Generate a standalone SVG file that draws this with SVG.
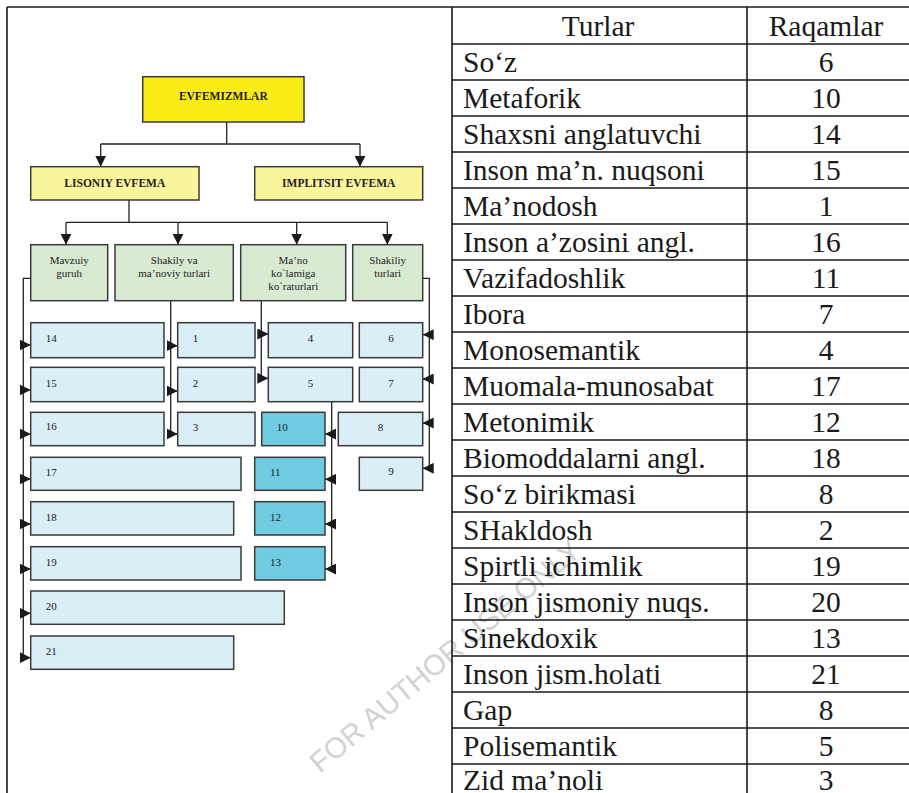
<svg xmlns="http://www.w3.org/2000/svg" width="909" height="793" viewBox="0 0 909 793">
<style>
.frame{stroke:#1a1a1a;stroke-width:1.6;fill:none}
.box{stroke:#3a3a3a;stroke-width:1.5}
.y1{fill:#f9eb14}
.y2{fill:#fbf59c}
.g{fill:#d9ead3}
.b{fill:#daeef5}
.t{fill:#6fcce0}
.lbl{font-family:"Liberation Serif","Times New Roman",serif;font-size:11px;fill:#222}
.hb{font-family:"Liberation Serif","Times New Roman",serif;font-size:11.5px;font-weight:bold;fill:#222;text-anchor:middle}
.gt{font-family:"Liberation Serif","Times New Roman",serif;font-size:11px;fill:#222;text-anchor:middle}
.con{stroke:#222;stroke-width:1.3;fill:none}
.arr{stroke:#222;stroke-width:1.3;fill:none;marker-end:url(#ah)}
.tt{font-family:"Liberation Serif","Times New Roman",serif;font-size:29.5px;fill:#1a1a1a}
.tn{font-family:"Liberation Serif","Times New Roman",serif;font-size:29.5px;fill:#1a1a1a;text-anchor:middle}
.wm{font-family:"Liberation Sans",Arial,sans-serif;font-size:29px;fill:#d2d2d2}
</style>
<defs>
<marker id="ah" markerUnits="userSpaceOnUse" markerWidth="11" markerHeight="11" refX="10" refY="5" orient="auto" viewBox="0 0 10 10">
<path d="M0,0 L10,5 L0,10 z" fill="#1a1a1a"/>
</marker>
</defs>
<rect x="0" y="0" width="909" height="793" fill="#ffffff"/>

<!-- watermark -->
<text class="wm" transform="translate(320,774) rotate(-40)">FOR AUTHOR USE ONLY</text>

<!-- table/frame lines -->
<g id="table-grid" class="frame">
<path d="M7,7 H909 M7,7 V793 M452,7 V793 M747,7 V793"/>
<path d="M452,44 H909 M452,80 H909 M452,116 H909 M452,152 H909 M452,188 H909 M452,224 H909 M452,260 H909 M452,296 H909 M452,332 H909 M452,368 H909 M452,404 H909 M452,440 H909 M452,476 H909 M452,512 H909 M452,548 H909 M452,584 H909 M452,620 H909 M452,656 H909 M452,692 H909 M452,728 H909 M452,764 H909"/>
</g>

<g id="table-text">
<text class="tn" x="598" y="36">Turlar</text>
<text class="tn" x="826" y="36">Raqamlar</text>
<text class="tt" x="463" y="71.5">So‘z</text><text class="tn" x="826" y="71.5">6</text>
<text class="tt" x="463" y="107.5">Metaforik</text><text class="tn" x="826" y="107.5">10</text>
<text class="tt" x="463" y="143.5">Shaxsni anglatuvchi</text><text class="tn" x="826" y="143.5">14</text>
<text class="tt" x="463" y="179.5">Inson ma’n. nuqsoni</text><text class="tn" x="826" y="179.5">15</text>
<text class="tt" x="463" y="215.5">Ma’nodosh</text><text class="tn" x="826" y="215.5">1</text>
<text class="tt" x="463" y="251.5">Inson a’zosini angl.</text><text class="tn" x="826" y="251.5">16</text>
<text class="tt" x="463" y="287.5">Vazifadoshlik</text><text class="tn" x="826" y="287.5">11</text>
<text class="tt" x="463" y="323.5">Ibora</text><text class="tn" x="826" y="323.5">7</text>
<text class="tt" x="463" y="359.5">Monosemantik</text><text class="tn" x="826" y="359.5">4</text>
<text class="tt" x="463" y="395.5">Muomala-munosabat</text><text class="tn" x="826" y="395.5">17</text>
<text class="tt" x="463" y="431.5">Metonimik</text><text class="tn" x="826" y="431.5">12</text>
<text class="tt" x="463" y="467.5">Biomoddalarni angl.</text><text class="tn" x="826" y="467.5">18</text>
<text class="tt" x="463" y="503.5">So‘z birikmasi</text><text class="tn" x="826" y="503.5">8</text>
<text class="tt" x="463" y="539.5">SHakldosh</text><text class="tn" x="826" y="539.5">2</text>
<text class="tt" x="463" y="575.5">Spirtli ichimlik</text><text class="tn" x="826" y="575.5">19</text>
<text class="tt" x="463" y="611.5">Inson jismoniy nuqs.</text><text class="tn" x="826" y="611.5">20</text>
<text class="tt" x="463" y="647.5">Sinekdoxik</text><text class="tn" x="826" y="647.5">13</text>
<text class="tt" x="463" y="683.5">Inson jism.holati</text><text class="tn" x="826" y="683.5">21</text>
<text class="tt" x="463" y="719.5">Gap</text><text class="tn" x="826" y="719.5">8</text>
<text class="tt" x="463" y="755.5">Polisemantik</text><text class="tn" x="826" y="755.5">5</text>
<text class="tt" x="463" y="789.5">Zid ma’noli</text><text class="tn" x="826" y="789.5">3</text>
</g>

<!-- connectors -->
<g id="connectors">
<path class="con" d="M226.7,122 V144 M100.7,144 H360"/>
<path class="arr" d="M100.7,144 V166.7"/>
<path class="arr" d="M360,144 V166.7"/>
<path class="con" d="M129,200 V222.3 M66,222.3 H387.3"/>
<path class="arr" d="M66,222.3 V244.7"/>
<path class="arr" d="M178,222.3 V244.7"/>
<path class="arr" d="M296.7,222.3 V244.7"/>
<path class="arr" d="M387.3,222.3 V244.7"/>
<path class="con" d="M30.7,278.3 H23.3 V657.7"/>
<path class="arr" d="M23.3,345 H30.7"/>
<path class="arr" d="M23.3,390 H30.7"/>
<path class="arr" d="M23.3,434 H30.7"/>
<path class="arr" d="M23.3,479 H30.7"/>
<path class="arr" d="M23.3,524 H30.7"/>
<path class="arr" d="M23.3,569 H30.7"/>
<path class="arr" d="M23.3,613.3 H30.7"/>
<path class="arr" d="M23.3,657.7 H30.7"/>
<path class="con" d="M170.7,300.7 V434"/>
<path class="arr" d="M170.7,345.7 H177.7"/>
<path class="arr" d="M170.7,391 H177.7"/>
<path class="arr" d="M170.7,434 H177.7"/>
<path class="con" d="M261.3,300.7 V378.3"/>
<path class="arr" d="M261.3,334 H268.3"/>
<path class="arr" d="M261.3,378.3 H268.3"/>
<path class="con" d="M331.7,401.7 V569"/>
<path class="arr" d="M331.7,434 H325"/>
<path class="arr" d="M331.7,479.3 H325"/>
<path class="arr" d="M331.7,524 H325"/>
<path class="arr" d="M331.7,569 H325"/>
<path class="con" d="M422.7,278.3 H429.3 V468.3"/>
<path class="arr" d="M429.3,334.7 H422.7"/>
<path class="arr" d="M429.3,379 H422.7"/>
<path class="arr" d="M429.3,423 H422.7"/>
<path class="arr" d="M429.3,468.3 H422.7"/>
</g>

<!-- nodes -->
<g id="n-evfemizmlar"><rect class="box y1" x="142.7" y="76.7" width="161.3" height="45.3"/><text class="hb" x="223.3" y="100">EVFEMIZMLAR</text></g>
<g id="n-lisoniy"><rect class="box y2" x="30.7" y="166.7" width="168.3" height="33.3"/><text class="hb" x="114.8" y="186.5">LISONIY EVFEMA</text></g>
<g id="n-implitsit"><rect class="box y2" x="254.7" y="166.7" width="168" height="33.3"/><text class="hb" x="338.7" y="186.5">IMPLITSIT EVFEMA</text></g>

<g id="n-mavzuiy"><rect class="box g" x="30.7" y="244.7" width="77" height="56"/><text class="gt" x="69.2" y="263.5">Mavzuiy</text><text class="gt" x="69.2" y="276.5">guruh</text></g>
<g id="n-shakily"><rect class="box g" x="115" y="244.7" width="118.3" height="56"/><text class="gt" x="174.2" y="263.5">Shakily va</text><text class="gt" x="174.2" y="276.5">ma’noviy turlari</text></g>
<g id="n-mano"><rect class="box g" x="240.7" y="244.7" width="105" height="56"/><text class="gt" x="293.2" y="263.5">Ma’no</text><text class="gt" x="293.2" y="276.5">ko`lamiga</text><text class="gt" x="293.2" y="289.5">ko`raturlari</text></g>
<g id="n-shakiliy"><rect class="box g" x="352.7" y="244.7" width="70" height="56"/><text class="gt" x="387.7" y="263.5">Shakiliy</text><text class="gt" x="387.7" y="276.5">turlari</text></g>

<g id="n14"><rect class="box b" x="30.7" y="322.7" width="133.3" height="35"/><text class="lbl" x="45.7" y="342">14</text></g>
<g id="n1"><rect class="box b" x="177.7" y="322.7" width="77.3" height="35"/><text class="lbl" x="192.7" y="342">1</text></g>
<g id="n4"><rect class="box b" x="268.3" y="322.7" width="84.4" height="35"/><text class="lbl" x="310.5" y="342" text-anchor="middle">4</text></g>
<g id="n6"><rect class="box b" x="359.3" y="322.7" width="63.4" height="35"/><text class="lbl" x="391" y="342" text-anchor="middle">6</text></g>

<g id="n15"><rect class="box b" x="30.7" y="367.3" width="133.3" height="34.4"/><text class="lbl" x="45.7" y="386.5">15</text></g>
<g id="n2"><rect class="box b" x="177.7" y="367.3" width="77.3" height="34.4"/><text class="lbl" x="192.7" y="386.5">2</text></g>
<g id="n5"><rect class="box b" x="268.3" y="367.3" width="84.4" height="34.4"/><text class="lbl" x="310.5" y="386.5" text-anchor="middle">5</text></g>
<g id="n7"><rect class="box b" x="359.3" y="367.3" width="63.4" height="34.4"/><text class="lbl" x="391" y="386.5" text-anchor="middle">7</text></g>

<g id="n16"><rect class="box b" x="30.7" y="412.3" width="133.3" height="33.4"/><text class="lbl" x="45.7" y="429.5">16</text></g>
<g id="n3"><rect class="box b" x="177.7" y="412.3" width="77.3" height="33.4"/><text class="lbl" x="192.7" y="431">3</text></g>
<g id="n10"><rect class="box t" x="261.7" y="412.3" width="63.3" height="33.4"/><text class="lbl" x="276.7" y="431">10</text></g>
<g id="n8"><rect class="box b" x="338.3" y="412.3" width="84.4" height="33.4"/><text class="lbl" x="380.5" y="431" text-anchor="middle">8</text></g>

<g id="n17"><rect class="box b" x="30.7" y="457.3" width="210.3" height="33"/><text class="lbl" x="45.7" y="476">17</text></g>
<g id="n11"><rect class="box t" x="254.7" y="457.3" width="70.3" height="33"/><text class="lbl" x="270" y="476">11</text></g>
<g id="n9"><rect class="box b" x="359.3" y="457.3" width="63.4" height="33"/><text class="lbl" x="391" y="475" text-anchor="middle">9</text></g>

<g id="n18"><rect class="box b" x="30.7" y="501.7" width="203" height="33.3"/><text class="lbl" x="45.7" y="520.5">18</text></g>
<g id="n12"><rect class="box t" x="254.7" y="501.7" width="70.3" height="33.3"/><text class="lbl" x="270" y="520.5">12</text></g>

<g id="n19"><rect class="box b" x="30.7" y="546.7" width="210.3" height="33.3"/><text class="lbl" x="45.7" y="565.5">19</text></g>
<g id="n13"><rect class="box t" x="254.7" y="546.7" width="70.3" height="33.3"/><text class="lbl" x="270" y="565.5">13</text></g>

<g id="n20"><rect class="box b" x="30.7" y="591" width="253.6" height="33.3"/><text class="lbl" x="45.7" y="610">20</text></g>
<g id="n21"><rect class="box b" x="30.7" y="636" width="203" height="33.3"/><text class="lbl" x="45.7" y="655">21</text></g>
</svg>
